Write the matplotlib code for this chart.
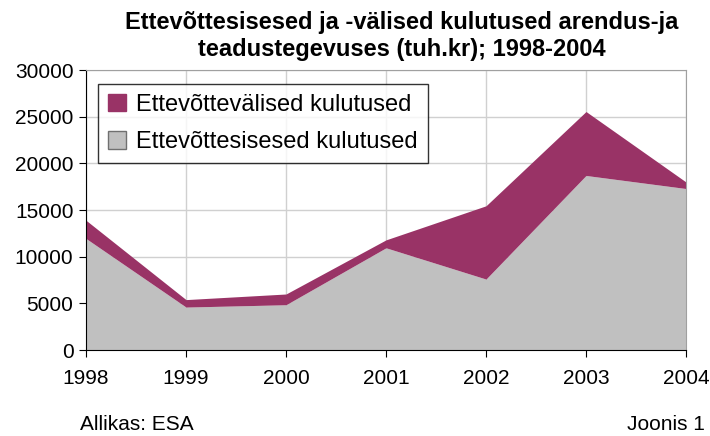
import numpy as np
import matplotlib.pyplot as plt
from matplotlib.patches import Patch

plt.rcParams['font.family'] = ['Liberation Sans', 'DejaVu Sans']

# ─── DATA ────────────────────────────────────────────
years = [1998, 1999, 2000, 2001, 2002, 2003, 2004]
sisesed = [11950, 4600, 4850, 10950, 7600, 18700, 17300]   # ettevõttesisesed
valised = [1950, 800, 1150, 850, 7850, 6850, 700]          # ettevõttevälised
yticks = [0, 5000, 10000, 15000, 20000, 25000, 30000]

title = "Ettevõttesisesed ja -välised kulutused arendus-ja\nteadustegevuses (tuh.kr); 1998-2004"
lbl_sis = "Ettevõttesisesed kulutused"
lbl_val = "Ettevõttevälised kulutused"

# ─── PLOT ────────────────────────────────────────────
fig = plt.figure(figsize=(7.1, 4.36), dpi=100)
ax = fig.add_axes([86/710, 86/436, 600/710, 280/436])

ax.fill_between(years, 0, sisesed, color='#C0C0C0', lw=0, zorder=2)
top = np.array(sisesed) + np.array(valised)
ax.fill_between(years, sisesed, top, color='#993366', lw=0, zorder=2)

ax.set_xlim(years[0], years[-1])
ax.set_ylim(0, 30000)
ax.set_xticks(years)
ax.set_yticks(yticks)
ax.grid(True, color='#D0D0D0', lw=1, zorder=1)
ax.set_axisbelow(True)
ax.tick_params(labelsize=15, length=5, direction='out', color='black')
ax.tick_params(axis='x', pad=9)
ax.tick_params(axis='y', pad=4)

for s in ['left', 'bottom']:
    ax.spines[s].set_color('black')
for s in ['top', 'right']:
    ax.spines[s].set_color('#A0A0A0')

handles = [Patch(facecolor='#993366', edgecolor='#993366'),
           Patch(facecolor='#C0C0C0', edgecolor='#707070')]
leg = ax.legend(handles, [lbl_val, lbl_sis], loc='upper left',
                bbox_to_anchor=(12/600, 1 - 14/280), fontsize=17,
                frameon=True, fancybox=False, edgecolor='black',
                handlelength=0.75, handleheight=0.75, labelspacing=0.65,
                borderpad=0.42, handletextpad=0.45, borderaxespad=0)
leg.get_frame().set_linewidth(1)

fig.text(402/710, 1 - 11/436, title, ha='center', va='top', fontsize=17,
         fontweight='bold', linespacing=1.2)
fig.text(80/710, 6/436, "Allikas: ESA", ha='left', va='baseline', fontsize=15)
fig.text(705/710, 6/436, "Joonis 1", ha='right', va='baseline', fontsize=15)

fig.savefig('out.png', dpi=100)
